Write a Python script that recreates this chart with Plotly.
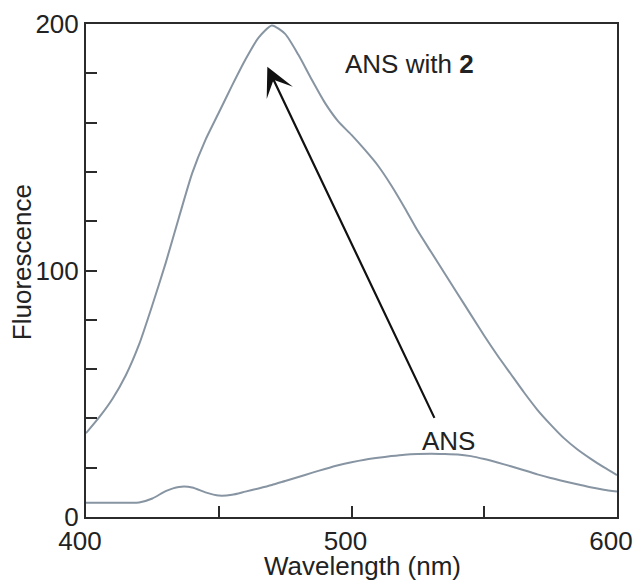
import plotly.graph_objects as go

# Wavelength grid (nm)
wavelength = [400, 405, 410, 415, 420, 425, 430, 435, 440, 445, 450, 455, 460, 465,
              470, 475, 480, 485, 490, 495, 500, 505, 510, 515, 520, 525, 530, 535,
              540, 545, 550, 555, 560, 565, 570, 575, 580, 585, 590, 595, 600]

# ANS with 2
ans_with_2 = [34, 40.5, 48, 57.5, 70, 86, 103, 121.5, 139.5, 153, 164, 175, 185.5, 194.5,
              199.4, 196, 187.5, 177.5, 168, 160.5, 155, 149, 142.5, 134.5, 125.5, 116,
              107.5, 99, 90.5, 82, 73.5, 65.5, 58, 50.5, 43.5, 37.5, 32, 27.5, 23.7,
              20.2, 17]

# ANS alone
ans = [5.8, 5.8, 5.8, 5.8, 5.9, 7.5, 10.5, 12.2, 12, 10, 8.7, 9, 10.3, 11.6,
       13, 14.6, 16.2, 17.9, 19.5, 21, 22.2, 23.2, 24, 24.7, 25.3, 25.6, 25.7,
       25.6, 25.4, 24.7, 23.5, 22.1, 20.6, 19, 17.3, 15.8, 14.5, 13.3, 12.1,
       11.1, 10.3]

x_tickvals = [400, 450, 500, 550, 600]
x_ticktext = ["400", "", "500", "", "600"]
y_tickvals = [0, 20, 40, 60, 80, 100, 120, 140, 160, 180, 200]
y_ticktext = ["0", "", "", "", "", "100", "", "", "", "", "200"]

# arrow: tail and head in data coordinates
arrow_tail = (531.5, 39.6)
arrow_head = (468.3, 182.7)

FONT = "Liberation Sans, Arial, Helvetica, sans-serif"
TXT = "#222222"
CURVE = "#8794a2"
AXIS = "#2b2b2b"

fig = go.Figure()
fig.add_trace(go.Scatter(x=wavelength, y=ans_with_2, mode="lines", name="ANS with 2",
                         line=dict(color=CURVE, width=2, shape="spline", smoothing=0.6)))
fig.add_trace(go.Scatter(x=wavelength, y=ans, mode="lines", name="ANS",
                         line=dict(color=CURVE, width=2, shape="spline", smoothing=0.6)))

fig.add_annotation(x=arrow_head[0], y=arrow_head[1], ax=arrow_tail[0], ay=arrow_tail[1],
                   xref="x", yref="y", axref="x", ayref="y", text="",
                   showarrow=True, arrowhead=3, arrowsize=2.2, arrowwidth=2.2,
                   arrowcolor="#111111")
fig.add_annotation(x=522, y=183.8, xref="x", yref="y", text="ANS with <b>2</b>",
                   showarrow=False, font=dict(family=FONT, size=26, color=TXT))
fig.add_annotation(x=536.5, y=30.8, xref="x", yref="y", text="ANS",
                   showarrow=False, font=dict(family=FONT, size=26, color=TXT))

# axis titles
fig.add_annotation(x=0.52, y=-0.1, xref="paper", yref="paper", text="Wavelength (nm)",
                   showarrow=False, xanchor="center", yanchor="middle",
                   font=dict(family=FONT, size=26, color=TXT))
fig.add_annotation(x=-0.1205, y=0.517, xref="paper", yref="paper", text="Fluorescence",
                   showarrow=False, textangle=-90, xanchor="center", yanchor="middle",
                   font=dict(family=FONT, size=26, color=TXT))

fig.update_layout(
    width=635, height=584,
    margin=dict(l=86, r=18, t=24, b=67, autoexpand=False),
    paper_bgcolor="white", plot_bgcolor="white",
    showlegend=False,
    hovermode=False,
    font=dict(family=FONT, size=26, color=TXT),
)
fig.update_xaxes(range=[400, 600], tickvals=x_tickvals, ticktext=x_ticktext,
                 ticks="inside", ticklen=11, tickwidth=2, tickcolor=AXIS,
                 showline=True, linecolor=AXIS, linewidth=2, mirror=True,
                 showgrid=False, zeroline=False, automargin=False,
                 ticklabeloverflow="allow", ticklabelshift=-6,
                 tickfont=dict(family=FONT, size=26, color=TXT))
fig.update_yaxes(range=[0, 200], tickvals=y_tickvals, ticktext=y_ticktext,
                 ticks="inside", ticklen=11, tickwidth=2, tickcolor=AXIS,
                 showline=True, linecolor=AXIS, linewidth=2, mirror=True,
                 showgrid=False, zeroline=False, automargin=False,
                 tickfont=dict(family=FONT, size=26, color=TXT))

# remove the default page margin so the figure fills the window exactly
fig.write_html("out.html", config={"displayModeBar": False},
               post_script="document.body.style.margin='0';document.body.style.overflow='hidden';")
